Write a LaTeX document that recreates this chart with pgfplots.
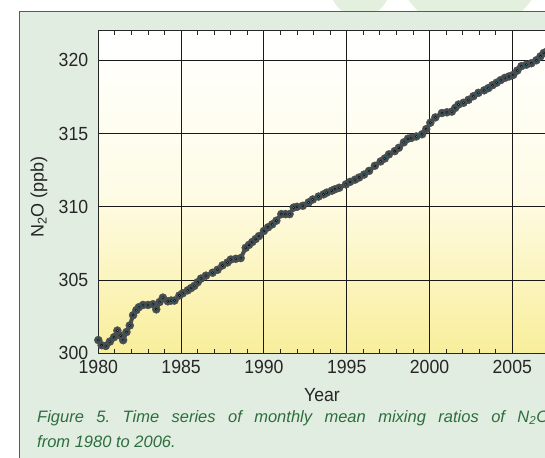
\documentclass[border=0pt]{standalone}
\usepackage{pgfplots}
\pgfplotsset{compat=1.18}
\usepackage{fontspec}
\setmainfont{Liberation Sans}
\definecolor{panel}{RGB}{226,237,225}
\definecolor{panelborder}{RGB}{50,115,65}
\definecolor{capgreen}{RGB}{45,110,62}
\definecolor{dgray}{RGB}{72,78,80}
\definecolor{dotcyan}{RGB}{70,185,215}
\definecolor{bgyellow}{RGB}{249,238,155}
\definecolor{bgcream}{RGB}{254,252,230}
\definecolor{deco}{RGB}{228,240,222}
\pgfplotstableread{
x y
1980.00 300.90
1980.20 300.55
1980.45 300.50
1980.70 300.80
1980.95 301.10
1981.15 301.55
1981.35 301.20
1981.50 300.90
1981.70 301.45
1981.90 301.90
1982.10 302.60
1982.30 302.95
1982.45 303.15
1982.70 303.30
1983.00 303.30
1983.30 303.35
1983.50 303.00
1983.70 303.50
1983.90 303.80
1984.20 303.55
1984.40 303.60
1984.60 303.60
1984.90 303.95
1985.10 304.10
1985.40 304.30
1985.60 304.45
1985.80 304.60
1986.00 304.85
1986.20 305.10
1986.50 305.30
1986.90 305.50
1987.20 305.70
1987.50 306.00
1987.80 306.20
1988.00 306.40
1988.30 306.45
1988.60 306.50
1988.90 307.20
1989.10 307.40
1989.30 307.60
1989.50 307.80
1989.70 308.00
1990.00 308.35
1990.25 308.60
1990.50 308.80
1990.75 309.05
1991.05 309.50
1991.30 309.50
1991.55 309.50
1991.80 309.95
1992.00 310.00
1992.35 310.07
1992.70 310.30
1992.95 310.50
1993.30 310.70
1993.60 310.85
1993.80 310.97
1994.10 311.10
1994.30 311.20
1994.55 311.30
1994.95 311.53
1995.20 311.70
1995.50 311.85
1995.75 312.00
1996.05 312.20
1996.35 312.45
1996.70 312.80
1997.05 313.10
1997.30 313.30
1997.55 313.58
1997.90 313.80
1998.15 314.03
1998.45 314.40
1998.70 314.65
1998.90 314.70
1999.20 314.80
1999.55 314.95
1999.80 315.30
2000.05 315.74
2000.35 316.10
2000.75 316.40
2001.05 316.45
2001.35 316.50
2001.55 316.75
2001.75 316.98
2002.05 317.10
2002.35 317.30
2002.65 317.55
2002.95 317.78
2003.30 317.95
2003.55 318.10
2003.80 318.30
2004.05 318.47
2004.30 318.65
2004.55 318.80
2004.80 318.90
2005.05 319.00
2005.30 319.30
2005.55 319.60
2005.85 319.70
2006.15 319.80
2006.45 320.00
2006.70 320.27
2006.90 320.50
2007.10 320.60
}\ntwoo
\begin{document}
\fontsize{17}{20}\selectfont
\begin{tikzpicture}
\fill[white] (0pt,0pt) rectangle (545pt,457pt);
\fill[deco] (470pt,500pt) circle (75pt);
\fill[deco] (360pt,470pt) circle (30pt);
\fill[panel] (19pt,-20pt) rectangle (600pt,446pt);
\draw[panelborder, line width=0.9pt] (19pt,-20pt) -- (19pt,446pt) -- (600pt,446pt);
\begin{axis}[
  at={(98.3pt,103.7pt)}, anchor=south west,
  scale only axis, width=463.7pt, height=322.3pt,
  xmin=1980, xmax=2008, ymin=300, ymax=322,
  xtick={1980,1985,...,2005}, ytick={300,305,...,320},
  minor x tick num=4,
  grid=major,
  major grid style={black!90, line width=0.9pt},
  axis line style={black!85, line width=1pt},
  tick align=inside,
  major tick length=0pt,
  minor tick length=4pt,
  minor tick style={black!85, line width=0.8pt},
  tick label style={font=\fontsize{19}{22}\selectfont, text=black!85, xscale=0.93},
  /pgf/number format/assume math mode=true,
  xticklabel style={/pgf/number format/1000 sep={}, yshift=-1pt},
  yticklabel style={xshift=-5pt},
  axis background/.style={shade, top color=white, bottom color=bgyellow, middle color=bgcream},
  clip=false,
]
\addplot[color=dgray, line width=4pt, mark=*, mark size=4pt,
  mark options={fill=dgray, draw=dgray, line width=0.4pt}] table[x=x,y=y] {\ntwoo};
\addplot[draw=none, mark=*, mark size=1.1pt,
  mark options={fill=dotcyan, draw=none}] table[x=x,y=y] {\ntwoo};
\end{axis}
\node[text=black!85, font=\fontsize{19}{22}\selectfont, xscale=0.93] at (322pt,62pt) {Year};
\node[text=black!85, rotate=90, font=\fontsize{18}{22}\selectfont] at (39pt,260pt) {N\textsubscript{2}O (ppb)};
\node[anchor=west, inner sep=0pt, text=capgreen, font=\fontsize{16.5}{20}\selectfont\itshape] at (37pt,39pt)
  {\spaceskip=0.3em plus 1em\xspaceskip=\spaceskip\hbox to 512pt{Figure 5. Time series of monthly mean mixing ratios of N\textsubscript{2}O}};
\node[anchor=west, inner sep=0pt, text=capgreen, font=\fontsize{16.5}{20}\selectfont\itshape] at (37pt,15pt)
  {from 1980 to 2006.};
\pgfresetboundingbox
\path[use as bounding box] (0pt,0pt) rectangle (545pt,457pt);
\end{tikzpicture}
\end{document}
